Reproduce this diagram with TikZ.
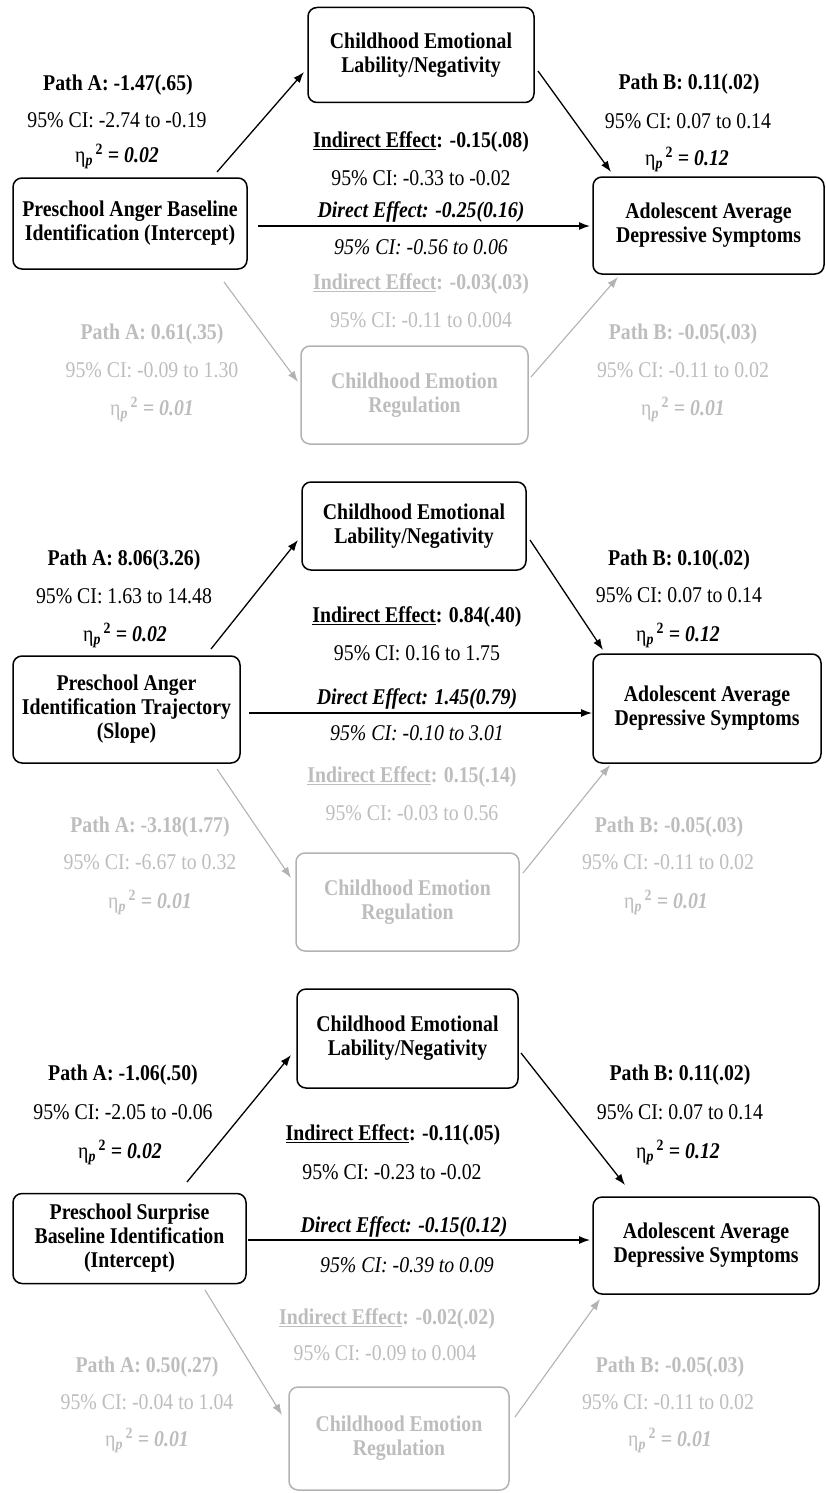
\documentclass[tikz,border=0pt]{standalone}
\usepackage{fontspec}
\setmainfont{Liberation Serif}[FakeStretch=0.88]
\usetikzlibrary{arrows.meta}
\definecolor{lg}{RGB}{189,189,189}
\definecolor{lgb}{RGB}{178,178,178}
\newcommand\etap[1]{η\textsubscript{\textbf{\textit{p}}}\textsuperscript{\,\textbf{2}} \textbf{\textit{= #1}}}
\tikzset{
  box/.style={draw, line width=1.5pt, rounded corners=9pt, align=center, font=\bfseries, inner sep=0pt},
  gbox/.style={box, draw=lgb, text=lg},
  lbl/.style={anchor=mid, inner sep=0pt},
  glbl/.style={lbl, text=lg},
  arr/.style={-{Latex[length=11pt,width=8pt]}, line width=1.3pt},
  garr/.style={arr, draw=lgb, line width=1.1pt},
}
\begin{document}
\begin{tikzpicture}[x=1pt,y=-1pt,node font=\fontsize{22.5}{24}\selectfont]
\useasboundingbox (0,0) rectangle (826,1493);
% ---------------- Panel 1 ----------------
\node[box, minimum width=234pt, minimum height=91pt] (L1) at (130,223.5) {Preschool Anger Baseline\\Identification (Intercept)};
\node[box, minimum width=226pt, minimum height=95pt] (T1) at (421,55) {Childhood Emotional\\Lability/Negativity};
\node[box, minimum width=231pt, minimum height=97pt] (R1) at (708.5,225.5) {Adolescent Average\\Depressive Symptoms};
\node[gbox, minimum width=227pt, minimum height=98pt] (B1) at (414.5,395) {Childhood Emotion\\Regulation};
\coordinate (a1s) at (217,172); \coordinate (a1e) at (304,72);
\coordinate (b1s) at (538,71);  \coordinate (b1e) at (611,172);
\coordinate (c1s) at (258,226); \coordinate (c1e) at (590,226);
\coordinate (ga1s) at (224,282); \coordinate (ga1e) at (298,382);
\coordinate (gb1s) at (531,377); \coordinate (gb1e) at (618,277);
\draw[arr] (a1s) -- (a1e);
\draw[arr] (b1s) -- (b1e);
\draw[arr] (c1s) -- (c1e);
\draw[garr] (ga1s) -- (ga1e);
\draw[garr] (gb1s) -- (gb1e);
\node[lbl] (pa1) at (118,85) {\textbf{Path A: -1.47(.65)}};
\node[lbl] (ca1) at (117,122) {95\% CI: -2.74 to -0.19};
\node[lbl] (ea1) at (117,157) {\etap{0.02}};
\node[lbl] (pb1) at (689,84) {\textbf{Path B: 0.11(.02)}};
\node[lbl] (cb1) at (688,123) {95\% CI: 0.07 to 0.14};
\node[lbl] (eb1) at (687,160) {\etap{0.12}};
\node[lbl] (ie1) at (421,142) {\textbf{\underline{Indirect Effect}: -0.15(.08)}};
\node[lbl] (ic1) at (421,180) {95\% CI: -0.33 to -0.02};
\node[lbl] (de1) at (421,212) {\textbf{\textit{Direct Effect: -0.25(0.16)}}};
\node[lbl] (dc1) at (421,249) {\textit{95\% CI: -0.56 to 0.06}};
\node[glbl] (gie1) at (421,284) {\textbf{\underline{Indirect Effect}: -0.03(.03)}};
\node[glbl] (gic1) at (421,322) {95\% CI: -0.11 to 0.004};
\node[glbl] (gpa1) at (152,334) {\textbf{Path A: 0.61(.35)}};
\node[glbl] (gca1) at (152,372) {95\% CI: -0.09 to 1.30};
\node[glbl] (gea1) at (152,410) {\etap{0.01}};
\node[glbl] (gpb1) at (683,334) {\textbf{Path B: -0.05(.03)}};
\node[glbl] (gcb1) at (683,372) {95\% CI: -0.11 to 0.02};
\node[glbl] (geb1) at (683,410) {\etap{0.01}};
% ---------------- Panel 2 ----------------
\node[box, minimum width=227pt, minimum height=107pt] (L2) at (126.5,709.5) {Preschool Anger\\Identification Trajectory\\(Slope)};
\node[box, minimum width=224pt, minimum height=88pt] (T2) at (414,526) {Childhood Emotional\\Lability/Negativity};
\node[box, minimum width=228pt, minimum height=109pt] (R2) at (707,708.5) {Adolescent Average\\Depressive Symptoms};
\node[gbox, minimum width=223pt, minimum height=98pt] (B2) at (407.5,902) {Childhood Emotion\\Regulation};
\coordinate (a2s) at (211,649); \coordinate (a2e) at (298,540);
\coordinate (b2s) at (530,540); \coordinate (b2e) at (603,650);
\coordinate (c2s) at (249,713); \coordinate (c2e) at (592,713);
\coordinate (ga2s) at (217,769); \coordinate (ga2e) at (291,878);
\coordinate (gb2s) at (523,873); \coordinate (gb2e) at (610,765);
\draw[arr] (a2s) -- (a2e);
\draw[arr] (b2s) -- (b2e);
\draw[arr] (c2s) -- (c2e);
\draw[garr] (ga2s) -- (ga2e);
\draw[garr] (gb2s) -- (gb2e);
\node[lbl] (pa2) at (124,560) {\textbf{Path A: 8.06(3.26)}};
\node[lbl] (ca2) at (124,598) {95\% CI: 1.63 to 14.48};
\node[lbl] (ea2) at (125,636) {\etap{0.02}};
\node[lbl] (pb2) at (679,560) {\textbf{Path B: 0.10(.02)}};
\node[lbl] (cb2) at (679,597) {95\% CI: 0.07 to 0.14};
\node[lbl] (eb2) at (678,636) {\etap{0.12}};
\node[lbl] (ie2) at (417,617) {\textbf{\underline{Indirect Effect}: 0.84(.40)}};
\node[lbl] (ic2) at (417,655) {95\% CI: 0.16 to 1.75};
\node[lbl] (de2) at (417,699) {\textbf{\textit{Direct Effect: 1.45(0.79)}}};
\node[lbl] (dc2) at (417,735) {\textit{95\% CI: -0.10 to 3.01}};
\node[glbl] (gie2) at (412,777) {\textbf{\underline{Indirect Effect}: 0.15(.14)}};
\node[glbl] (gic2) at (412,815) {95\% CI: -0.03 to 0.56};
\node[glbl] (gpa2) at (150,827) {\textbf{Path A: -3.18(1.77)}};
\node[glbl] (gca2) at (150,864) {95\% CI: -6.67 to 0.32};
\node[glbl] (gea2) at (150,903) {\etap{0.01}};
\node[glbl] (gpb2) at (669,827) {\textbf{Path B: -0.05(.03)}};
\node[glbl] (gcb2) at (668,864) {95\% CI: -0.11 to 0.02};
\node[glbl] (geb2) at (666,903) {\etap{0.01}};
% ---------------- Panel 3 ----------------
\node[box, minimum width=233pt, minimum height=90pt] (L3) at (129.5,1238.5) {Preschool Surprise\\Baseline Identification\\(Intercept)};
\node[box, minimum width=221pt, minimum height=99pt] (T3) at (407.5,1038.5) {Childhood Emotional\\Lability/Negativity};
\node[box, minimum width=226pt, minimum height=97pt] (R3) at (706,1245.5) {Adolescent Average\\Depressive Symptoms};
\node[gbox, minimum width=220pt, minimum height=103pt] (B3) at (399,1438.5) {Childhood Emotion\\Regulation};
\coordinate (a3s) at (187,1182); \coordinate (a3e) at (291,1055);
\coordinate (b3s) at (521,1053); \coordinate (b3e) at (625,1185);
\coordinate (c3s) at (248,1240); \coordinate (c3e) at (590,1240);
\coordinate (ga3s) at (205,1290); \coordinate (ga3e) at (282,1415);
\coordinate (gb3s) at (515,1417); \coordinate (gb3e) at (600,1299);
\draw[arr] (a3s) -- (a3e);
\draw[arr] (b3s) -- (b3e);
\draw[arr] (c3s) -- (c3e);
\draw[garr] (ga3s) -- (ga3e);
\draw[garr] (gb3s) -- (gb3e);
\node[lbl] (pa3) at (123,1075) {\textbf{Path A: -1.06(.50)}};
\node[lbl] (ca3) at (123,1114) {95\% CI: -2.05 to -0.06};
\node[lbl] (ea3) at (120,1153) {\etap{0.02}};
\node[lbl] (pb3) at (680,1075) {\textbf{Path B: 0.11(.02)}};
\node[lbl] (cb3) at (680,1114) {95\% CI: 0.07 to 0.14};
\node[lbl] (eb3) at (678,1153) {\etap{0.12}};
\node[lbl] (ie3) at (393,1135) {\textbf{\underline{Indirect Effect}: -0.11(.05)}};
\node[lbl] (ic3) at (392,1174) {95\% CI: -0.23 to -0.02};
\node[lbl] (de3) at (404,1227) {\textbf{\textit{Direct Effect: -0.15(0.12)}}};
\node[lbl] (dc3) at (407,1267) {\textit{95\% CI: -0.39 to 0.09}};
\node[glbl] (gie3) at (387,1319) {\textbf{\underline{Indirect Effect}: -0.02(.02)}};
\node[glbl] (gic3) at (385,1355) {95\% CI: -0.09 to 0.004};
\node[glbl] (gpa3) at (147,1367) {\textbf{Path A: 0.50(.27)}};
\node[glbl] (gca3) at (147,1404) {95\% CI: -0.04 to 1.04};
\node[glbl] (gea3) at (147,1441) {\etap{0.01}};
\node[glbl] (gpb3) at (670,1367) {\textbf{Path B: -0.05(.03)}};
\node[glbl] (gcb3) at (668,1404) {95\% CI: -0.11 to 0.02};
\node[glbl] (geb3) at (670,1441) {\etap{0.01}};
\end{tikzpicture}
\end{document}
